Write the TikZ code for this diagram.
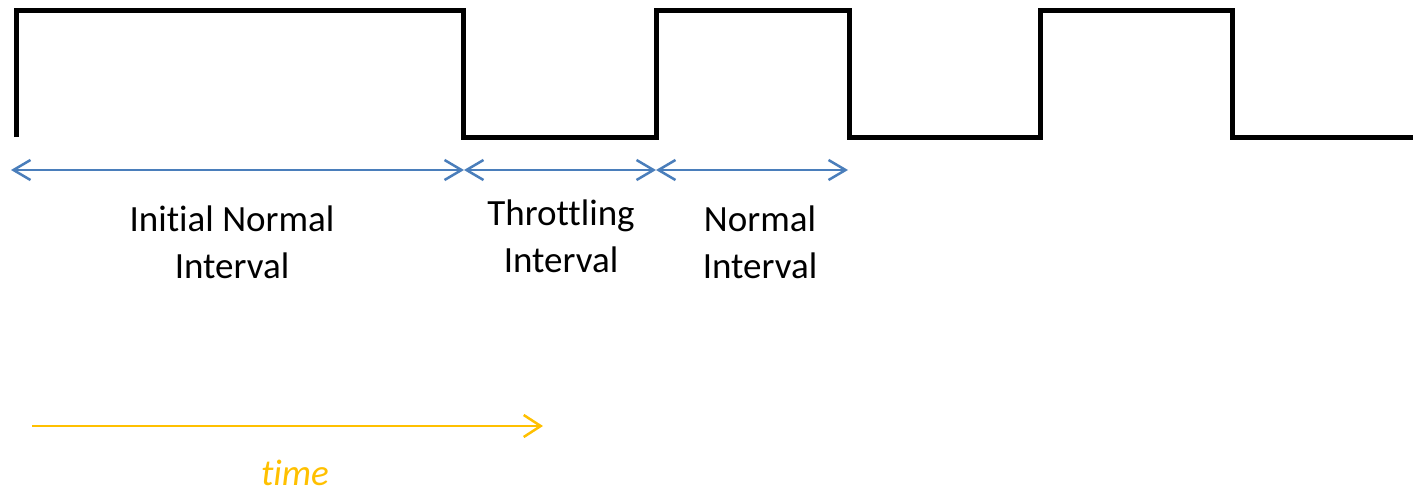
\documentclass[tikz,border=0pt]{standalone}
\usepackage{fontspec}
\setmainfont{Carlito}[Ligatures=NoCommon]
\usetikzlibrary{arrows.meta}
\definecolor{spanblue}{HTML}{4A7EBB}
\definecolor{timeorange}{HTML}{FFC000}
\begin{document}
\begin{tikzpicture}[x=1pt,y=-1pt,
  wave/.style={line width=5pt,line join=miter,black},
  span/.style={line width=2.5pt,spanblue,{Straight Barb[length=17pt,width=20pt]}-{Straight Barb[length=17pt,width=20pt]}},
  timeline/.style={line width=2.5pt,timeorange,-{Straight Barb[length=17pt,width=22pt]}},
  lbl/.style={align=center,inner sep=0pt,font=\fontsize{37}{47}\selectfont}]
\useasboundingbox (0,0) rectangle (1413,491);

% square wave
\draw[wave] (16,137) -- (16,10) -- (463,10) -- (463,137) -- (656,137)
  -- (656,10) -- (849,10) -- (849,137) -- (1040,137) -- (1040,10)
  -- (1232,10) -- (1232,137) -- (1413,137);

% interval boundaries
\coordinate (b0) at (11,170);
\coordinate (b1) at (464,170);
\coordinate (b2) at (656,170);
\coordinate (b3) at (848,170);

\draw[span] (b0) -- (b1);
\draw[span] (b1) -- (b2);
\draw[span] (b2) -- (b3);

\node[lbl] (init) at (232,242) {Initial Normal\\Interval};
\node[lbl] (thr) at (561,236) {Throttling\\Interval};
\node[lbl] (norm) at (760,242) {Normal\\Interval};

% time axis
\coordinate (t0) at (32,426);
\coordinate (t1) at (543,426);
\draw[timeline] (t0) -- (t1);
\node[inner sep=0pt,anchor=base,text depth=0pt,text=timeorange,font=\fontsize{37}{44}\selectfont\itshape] (time) at (295,485) {time};
\end{tikzpicture}
\end{document}
